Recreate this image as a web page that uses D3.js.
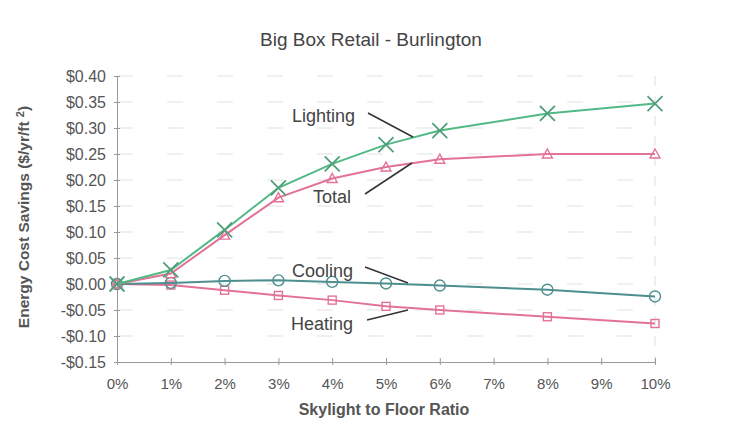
<!DOCTYPE html>
<html>
<head>
<meta charset="utf-8">
<script src="https://cdn.jsdelivr.net/npm/d3@7"></script>
<style>
  html, body { margin: 0; padding: 0; background: #fff; }
  text { font-family: "Liberation Sans", Arial, sans-serif; }
</style>
</head>
<body>
<svg id="chart" width="751" height="439"></svg>
<script>
const xValues = [0, 1, 2, 3, 4, 5, 6, 8, 10];
const lighting = [0, 0.027, 0.104, 0.185, 0.231, 0.268, 0.295, 0.328, 0.347];
const total    = [0, 0.020, 0.094, 0.166, 0.203, 0.225, 0.240, 0.250, 0.250];
const cooling  = [0, 0.002, 0.006, 0.007, 0.004, 0.001, -0.003, -0.011, -0.024];
const heating  = [0, -0.002, -0.012, -0.022, -0.031, -0.043, -0.050, -0.063, -0.076];
const xTicks = [0, 1, 2, 3, 4, 5, 6, 7, 8, 9, 10];
const yTicks = [-0.15, -0.10, -0.05, 0, 0.05, 0.10, 0.15, 0.20, 0.25, 0.30, 0.35, 0.40];
const seriesNames = ["Lighting", "Total", "Cooling", "Heating"];
const titleText = "Big Box Retail - Burlington";
const xTitle = "Skylight to Floor Ratio";

const svg = d3.select("#chart");
const pLeft = 117, pRight = 655, pTop = 76, pBottom = 362;
const x = d3.scaleLinear().domain([0, 10]).range([pLeft, pRight]);
const y = d3.scaleLinear().domain([-0.15, 0.40]).range([pBottom, pTop]);

const green = "#52b985", pink = "#e27396", teal = "#4d8f8e";

// gridlines
svg.append("g").selectAll("line").data(yTicks.filter(d => d > -0.15)).join("line")
  .attr("x1", pLeft).attr("x2", pRight)
  .attr("y1", d => y(d)).attr("y2", d => y(d))
  .attr("stroke", "#e2e2e2").attr("stroke-width", 1.2)
  .attr("stroke-dasharray", "16,34");
svg.append("line").attr("x1", pRight).attr("x2", pRight).attr("y1", pTop).attr("y2", pBottom)
  .attr("stroke", "#e4e4e4").attr("stroke-width", 1.2).attr("stroke-dasharray", "10,10");

// axes
const fmtY = d => (d < 0 ? "-$" : "$") + Math.abs(d).toFixed(2);
const yAxis = d3.axisLeft(y).tickValues(yTicks).tickFormat(fmtY).tickSizeInner(4).tickSizeOuter(0).tickPadding(7);
const gy = svg.append("g").attr("transform", `translate(${pLeft},0)`).call(yAxis);
gy.select(".domain").attr("stroke", "#999");
gy.selectAll(".tick line").attr("stroke", "#999").attr("x2", 3).attr("x1", -3);
gy.selectAll(".tick text").attr("fill", "#555").style("font-size", "16px")
  .style("font-family", "'Liberation Sans', Arial, sans-serif");

const xAxis = d3.axisBottom(x).tickValues(xTicks).tickFormat(d => d + "%").tickSizeInner(4).tickSizeOuter(0).tickPadding(12);
const gx = svg.append("g").attr("transform", `translate(0,${pBottom})`).call(xAxis);
gx.select(".domain").attr("stroke", "#999");
gx.selectAll(".tick line").attr("stroke", "#999").attr("y1", -4).attr("y2", 3);
gx.selectAll(".tick text").attr("fill", "#555").style("font-size", "15px")
  .style("font-family", "'Liberation Sans', Arial, sans-serif");

// titles
svg.append("text").attr("x", 371).attr("y", 46).attr("text-anchor", "middle")
  .attr("fill", "#444").style("font-size", "19px").text(titleText);
svg.append("text").attr("x", 384).attr("y", 415).attr("text-anchor", "middle")
  .attr("fill", "#555").style("font-size", "16px").style("font-weight", "bold").text(xTitle);
const yt = svg.append("text").attr("transform", "translate(29,217) rotate(-90)")
  .attr("text-anchor", "middle").attr("fill", "#555").style("font-size", "15.5px").style("font-weight", "bold");
yt.append("tspan").text("Energy Cost Savings ($/yr/ft ");
yt.append("tspan").attr("dy", -5).style("font-size", "11px").text("2");
yt.append("tspan").attr("dy", 5).text(")");

// series
const line = d3.line().x(d => x(d[0])).y(d => y(d[1]));
function drawSeries(vals, color, marker, mcolor) {
  const pts = xValues.map((v, i) => [v, vals[i]]);
  svg.append("path").datum(pts).attr("d", line).attr("fill", "none")
    .attr("stroke", color).attr("stroke-width", 2);
  const g = svg.append("g");
  pts.forEach(p => {
    const cx = x(p[0]), cy = y(p[1]);
    if (marker === "x") {
      const s = 7.5;
      g.append("path").attr("d", `M${cx - s},${cy - s}L${cx + s},${cy + s}M${cx - s},${cy + s}L${cx + s},${cy - s}`)
        .attr("stroke", mcolor).attr("stroke-width", 1.8).attr("fill", "none");
    } else if (marker === "tri") {
      const s = 5;
      g.append("path").attr("d", `M${cx},${cy - s}L${cx + s},${cy + s * 0.8}L${cx - s},${cy + s * 0.8}Z`)
        .attr("stroke", mcolor).attr("stroke-width", 1.4).attr("fill", "none");
    } else if (marker === "circle") {
      g.append("circle").attr("cx", cx).attr("cy", cy).attr("r", 5.5)
        .attr("stroke", mcolor).attr("stroke-width", 1.4).attr("fill", "none");
    } else if (marker === "square") {
      const s = 4;
      g.append("rect").attr("x", cx - s).attr("y", cy - s).attr("width", 2 * s).attr("height", 2 * s)
        .attr("stroke", mcolor).attr("stroke-width", 1.4).attr("fill", "none");
    }
  });
}
drawSeries(heating, pink, "square", pink);
drawSeries(cooling, teal, "circle", teal);
drawSeries(total, pink, "tri", pink);
drawSeries(lighting, green, "x", "#4f9f7a");

// callout labels
const labels = [
  { name: seriesNames[0], tx: 292, ty: 122, l: [368, 113, 413, 137] },
  { name: seriesNames[1], tx: 313, ty: 203, l: [365, 194, 412, 163] },
  { name: seriesNames[2], tx: 292, ty: 277, l: [365, 267, 408, 283] },
  { name: seriesNames[3], tx: 291, ty: 330, l: [367, 320, 408, 310] }
];
labels.forEach(d => {
  svg.append("text").attr("x", d.tx).attr("y", d.ty).attr("fill", "#444")
    .style("font-size", "18px").text(d.name);
  svg.append("line").attr("x1", d.l[0]).attr("y1", d.l[1]).attr("x2", d.l[2]).attr("y2", d.l[3])
    .attr("stroke", "#333").attr("stroke-width", 1.5);
});
</script>
</body>
</html>
